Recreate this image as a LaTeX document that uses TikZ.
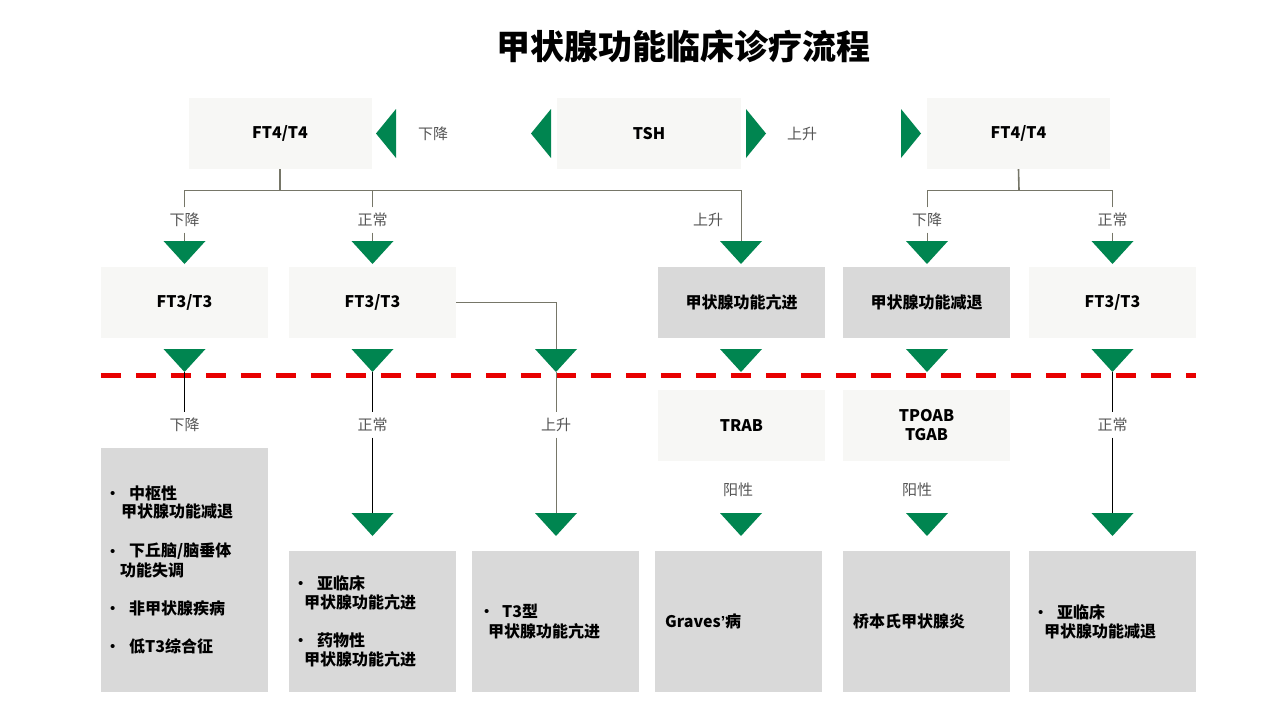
\documentclass[tikz,border=0pt]{standalone}
\usepackage{fontspec}
\setmainfont{Noto Sans CJK SC}
\newfontfamily\bulf{Liberation Sans}
\definecolor{tgreen}{RGB}{0,133,80}
\definecolor{lightbox}{RGB}{247,247,245}
\definecolor{midbox}{RGB}{217,217,217}
\definecolor{tlinec}{RGB}{118,118,104}
\definecolor{labelc}{RGB}{85,85,85}
\definecolor{dred}{RGB}{232,0,0}
\begin{document}
\begin{tikzpicture}[x=1pt,y=-1pt,
  base/.style={rectangle,inner sep=0pt,font=\fontsize{16}{19}\selectfont\bfseries},
  lbox/.style={base,fill=lightbox},
  mbox/.style={base,fill=midbox},
  topsize/.style={minimum width=183pt,minimum height=71pt},
  midsize/.style={minimum width=167pt,minimum height=71pt},
  lowsize/.style={minimum width=167pt,minimum height=141pt},
  lab/.style={inner sep=0pt,minimum height=25pt,text=labelc,font=\fontsize{15}{18}\selectfont},
  txt/.style={anchor=west,inner sep=0pt,font=\fontsize{16}{19}\selectfont\bfseries},
  bul/.style={anchor=west,inner sep=0pt,yshift=-1.5pt,font=\bulf\fontsize{15}{19}\selectfont},
  tline/.style={draw=tlinec,line width=1pt},
  bline/.style={draw=black,line width=1pt},
  dtri/.pic={\fill[tgreen] (-21,0) -- (21,0) -- (0,23) -- cycle;},
  ltri/.pic={\fill[tgreen] (0,0) -- (20,-24.5) -- (20,24.5) -- cycle;},
  rtri/.pic={\fill[tgreen] (0,0) -- (-20,-24.5) -- (-20,24.5) -- cycle;},
]
\fill[white] (0,0) rectangle (1280,720);
\useasboundingbox (0,0) rectangle (1280,720);

% title
\node[font=\fontsize{34}{40}\selectfont\bfseries] (title) at (683,46) {甲状腺功能临床诊疗流程};

% top row
\node[lbox,topsize] (ft4l) at (280,133.5) {FT4/T4};
\node[lbox,topsize,minimum width=184pt] (tsh) at (649,133.5) {TSH};
\node[lbox,topsize] (ft4r) at (1018.5,133.5) {FT4/T4};
\pic at (376,133.5) {ltri};
\pic at (531,133.5) {ltri};
\node[lab] (ldown) at (433,133.5) {下降};
\pic at (766,133.5) {rtri};
\pic at (921,133.5) {rtri};
\node[lab] (lup) at (802,133.5) {上升};

% top trees
\coordinate (j1) at (280,190);
\coordinate (j2) at (1019,190);
\coordinate (t1) at (184.5,241);
\coordinate (t2) at (372.5,241);
\coordinate (t3) at (741,241);
\coordinate (t4) at (927,241);
\coordinate (t5) at (1112.5,241);
\node[lab] (a1) at (184.5,220) {下降};
\node[lab] (a2) at (372.5,220) {正常};
\node[lab] (a3) at (708,220) {上升};
\node[lab] (a4) at (927,220) {下降};
\node[lab] (a5) at (1112.5,220) {正常};
\draw[tline,line width=1.6pt] (ft4l.south) -- (j1);
\draw[tline] (a1.north) |- (j1);
\draw[tline] (a2.north) |- (j1);
\draw[tline] (t3) |- (j1);
\draw[tline] (a1.south) -- (t1);
\draw[tline] (a2.south) -- (t2);
\draw[tline,line width=1.6pt] (ft4r.south) -- (j2);
\draw[tline] (a4.north) |- (j2);
\draw[tline] (a5.north) |- (j2);
\draw[tline] (a4.south) -- (t4);
\draw[tline] (a5.south) -- (t5);
\foreach \c in {t1,t2,t3,t4,t5} \pic at (\c) {dtri};

% second row
\node[lbox,midsize] (b1) at (184.5,302.5) {FT3/T3};
\node[lbox,midsize] (b2) at (372.5,302.5) {FT3/T3};
\node[mbox,midsize] (b3) at (741.5,302.5) {甲状腺功能亢进};
\node[mbox,midsize] (b4) at (926.5,302.5) {甲状腺功能减退};
\node[lbox,midsize] (b5) at (1112.5,302.5) {FT3/T3};

% third row triangles
\coordinate (s1) at (184.5,349);
\coordinate (s2) at (372.5,349);
\coordinate (s3) at (556,349);
\coordinate (s4) at (741,349);
\coordinate (s5) at (927,349);
\coordinate (s6) at (1112.5,349);
\draw[tline] (b2.east) -| (s3);

% red separator
\coordinate (sepL) at (101,375.5);
\coordinate (sepR) at (1196,375.5);
\draw[dred,line width=5pt,dash pattern=on 20pt off 15pt] (sepL) -- (sepR);

\foreach \c in {s1,s2,s3,s4,s5,s6} \pic at (\c) {dtri};

% labels below separator
\node[lab] (c1) at (184.5,425) {下降};
\node[lab] (c2) at (372.5,425) {正常};
\node[lab] (c3) at (556,425) {上升};
\node[lab] (c6) at (1112.5,425) {正常};
\coordinate (s1x) at (184.5,372);
\coordinate (s2x) at (372.5,372);
\coordinate (s3x) at (556,372);
\coordinate (s6x) at (1112.5,372);
\coordinate (u2) at (372.5,513);
\coordinate (u3) at (556,513);
\coordinate (u4) at (741,513);
\coordinate (u5) at (927,513);
\coordinate (u6) at (1112.5,513);
\draw[bline] (s1x) -- (c1.north);
\draw[bline] (s2x) -- (c2.north);
\draw[tline] (s3x) -- (c3.north);
\draw[bline] (s6x) -- (c6.north);
\draw[bline] (c2.south) -- (u2);
\draw[tline] (c3.south) -- (u3);
\draw[bline] (c6.south) -- (u6);

% antibody boxes
\node[lbox,midsize] (r4) at (741.5,425.5) {TRAB};
\node[lbox,midsize,align=center] (r5) at (926.5,425.5) {TPOAB\\TGAB};
\node[lab] (p4) at (738,490) {阳性};
\node[lab] (p5) at (917,490) {阳性};

\foreach \c in {u2,u3,u4,u5,u6} \pic at (\c) {dtri};

% bottom boxes
\node[mbox,minimum width=167pt,minimum height=244pt] (d1) at (184.5,570) {};
\node[mbox,lowsize] (d2) at (372.5,621.5) {};
\node[mbox,lowsize] (d3) at (555.5,621.5) {};
\node[mbox,lowsize] (d4) at (738.5,621.5) {};
\node[mbox,lowsize] (d5) at (926.5,621.5) {};
\node[mbox,lowsize] (d6) at (1112.5,621.5) {};

% bottom texts
\node[bul] (d1b1) at (110,493) {•};
\node[txt] (d1t1) at (129,493) {中枢性};
\node[txt] (d1t2) at (121,511) {甲状腺功能减退};
\node[bul] (d1b2) at (110,551) {•};
\node[txt] (d1t3) at (129,551) {下丘脑/脑垂体};
\node[txt] (d1t4) at (120,570) {功能失调};
\node[bul] (d1b3) at (110,608) {•};
\node[txt] (d1t5) at (129,608) {非甲状腺疾病};
\node[bul] (d1b4) at (110,646) {•};
\node[txt] (d1t6) at (129,646) {低T3综合征};

\node[bul] (d2b1) at (298,583) {•};
\node[txt] (d2t1) at (317,583) {亚临床};
\node[txt] (d2t2) at (304,602) {甲状腺功能亢进};
\node[bul] (d2b2) at (298,640) {•};
\node[txt] (d2t3) at (317,640) {药物性};
\node[txt] (d2t4) at (304,659) {甲状腺功能亢进};

\node[bul] (d3b1) at (484,611) {•};
\node[txt] (d3t1) at (502,611) {T3型};
\node[txt] (d3t2) at (488,631) {甲状腺功能亢进};

\node[txt] (d4t1) at (665,621) {Graves{\bulf\bfseries ’}病};
\node[txt] (d5t1) at (853,621) {桥本氏甲状腺炎};

\node[bul] (d6b1) at (1038,612) {•};
\node[txt] (d6t1) at (1057,612) {亚临床};
\node[txt] (d6t2) at (1044,631) {甲状腺功能减退};
\end{tikzpicture}
\end{document}
